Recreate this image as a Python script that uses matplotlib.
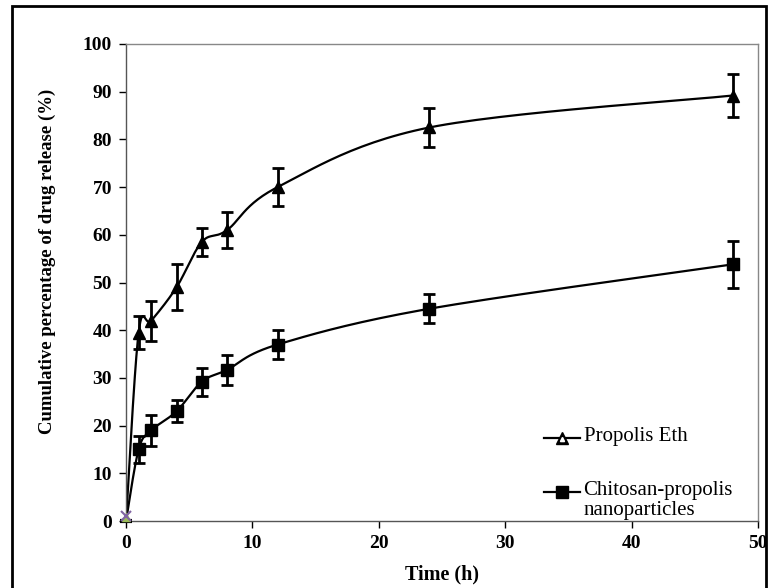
import matplotlib.pyplot as plt
import numpy as np
from matplotlib.patches import Rectangle
from matplotlib.lines import Line2D

plt.rcParams['font.family'] = ['Liberation Serif', 'DejaVu Serif']

# data
time_h = [0, 1, 2, 4, 6, 8, 12, 24, 48]
propolis_eth = [0, 39.5, 42, 49, 58.5, 61, 70, 82.5, 89.2]
propolis_err = [0, 3.5, 4.2, 4.8, 3.0, 3.8, 4.0, 4.0, 4.5]
chitosan = [0, 15, 19, 23, 29.2, 31.7, 37, 44.5, 53.8]
chitosan_err = [0, 2.8, 3.2, 2.3, 2.9, 3.2, 3.0, 3.0, 5.0]

labels = ['Propolis Eth', 'Chitosan-propolis\nnanoparticles']
xticks = [0, 10, 20, 30, 40, 50]
yticks = [0, 10, 20, 30, 40, 50, 60, 70, 80, 90, 100]


def smooth(x, y, n=30):
    # excel style bezier smoothing (catmull-rom, tension 1/6)
    x = np.asarray(x, float)
    y = np.asarray(y, float)
    px = np.concatenate([[x[0]], x, [x[-1]]])
    py = np.concatenate([[y[0]], y, [y[-1]]])
    xs, ys = [], []
    t = np.linspace(0, 1, n)
    for i in range(1, len(px) - 2):
        p0 = np.array([px[i], py[i]])
        p3 = np.array([px[i + 1], py[i + 1]])
        p1 = p0 + (np.array([px[i + 1], py[i + 1]]) - np.array([px[i - 1], py[i - 1]])) / 6
        p2 = p3 - (np.array([px[i + 2], py[i + 2]]) - np.array([px[i], py[i]])) / 6
        b = ((1 - t) ** 3)[:, None] * p0 + (3 * (1 - t) ** 2 * t)[:, None] * p1 \
            + (3 * (1 - t) * t ** 2)[:, None] * p2 + (t ** 3)[:, None] * p3
        xs.extend(b[:, 0])
        ys.extend(b[:, 1])
    return xs, ys


fig = plt.figure(figsize=(7.68, 5.88), dpi=100)
ax = fig.add_axes([126 / 768, 1 - 521 / 588, (758 - 126) / 768, (521 - 44) / 588])

## curves
sx, sy = smooth(time_h, propolis_eth)
ax.plot(sx, sy, color='black', lw=1.6, zorder=2)
sx, sy = smooth(time_h, chitosan)
ax.plot(sx, sy, color='black', lw=1.6, zorder=2)

## markers + error bars
ax.errorbar(time_h[1:], propolis_eth[1:], yerr=propolis_err[1:], fmt='^', color='black',
            ms=9, capsize=4, elinewidth=2, capthick=2, zorder=3)
ax.errorbar(time_h[1:], chitosan[1:], yerr=chitosan_err[1:], fmt='s', color='black',
            ms=8, capsize=4, elinewidth=2, capthick=2, zorder=3)

# stray excel markers at the origin
ax.plot([time_h[0]], [chitosan[0]], marker='_', color='black', ms=8, mew=3, zorder=4, clip_on=False)
ax.plot([time_h[0]], [propolis_eth[0] + 0.8], marker='^', color='#9bbb59', ms=6, zorder=4, clip_on=False)
ax.plot([time_h[0]], [propolis_eth[0] + 1], marker='x', color='#8064a2', ms=7, mew=1.5, zorder=5, clip_on=False)

ax.set_xlim(0, 50)
ax.set_ylim(0, 100)
ax.set_xticks(xticks)
ax.set_yticks(yticks)
ax.tick_params(direction='out', length=5, width=1, labelsize=14, pad=5, colors='black')
for lab in ax.get_xticklabels() + ax.get_yticklabels():
    lab.set_fontweight('bold')
ax.set_xlabel('Time (h)', fontsize=14.5, fontweight='bold')
ax.set_ylabel('Cumulative percentage of drug release (%)', fontsize=13.5, fontweight='bold')
ax.xaxis.set_label_coords(0.5, -0.092)
ax.yaxis.set_label_coords(-0.111, 0.545)

for s in ['left', 'bottom']:
    ax.spines[s].set_color('#555555')
    ax.spines[s].set_linewidth(1)
for s in ['top', 'right']:
    ax.spines[s].set_color('#888888')
    ax.spines[s].set_linewidth(1)

## legend drawn by hand
ax.add_line(Line2D([0.661, 0.718], [0.175, 0.175], transform=ax.transAxes, color='black', lw=1.6))
ax.plot([0.69], [0.175], transform=ax.transAxes, marker='^', color='black', ms=9)
ax.plot([0.69], [0.172], transform=ax.transAxes, marker='^', color='white', ms=3)
ax.text(0.724, 0.177, labels[0], transform=ax.transAxes, fontsize=15, va='center', ha='left')
ax.add_line(Line2D([0.661, 0.718], [0.061, 0.061], transform=ax.transAxes, color='black', lw=1.6))
ax.plot([0.69], [0.061], transform=ax.transAxes, marker='s', color='black', ms=8)
ax.text(0.724, 0.063, labels[1].split('\n')[0], transform=ax.transAxes, fontsize=15, va='center', ha='left')
ax.text(0.724, 0.021, labels[1].split('\n')[1], transform=ax.transAxes, fontsize=15, va='center', ha='left')

# outer frame
fig.add_artist(Rectangle((12 / 768, -0.01), (766 - 12) / 768, 1 - 6 / 588 + 0.01,
                         transform=fig.transFigure, fill=False, edgecolor='black', lw=2))

fig.savefig('out.png', dpi=100)
